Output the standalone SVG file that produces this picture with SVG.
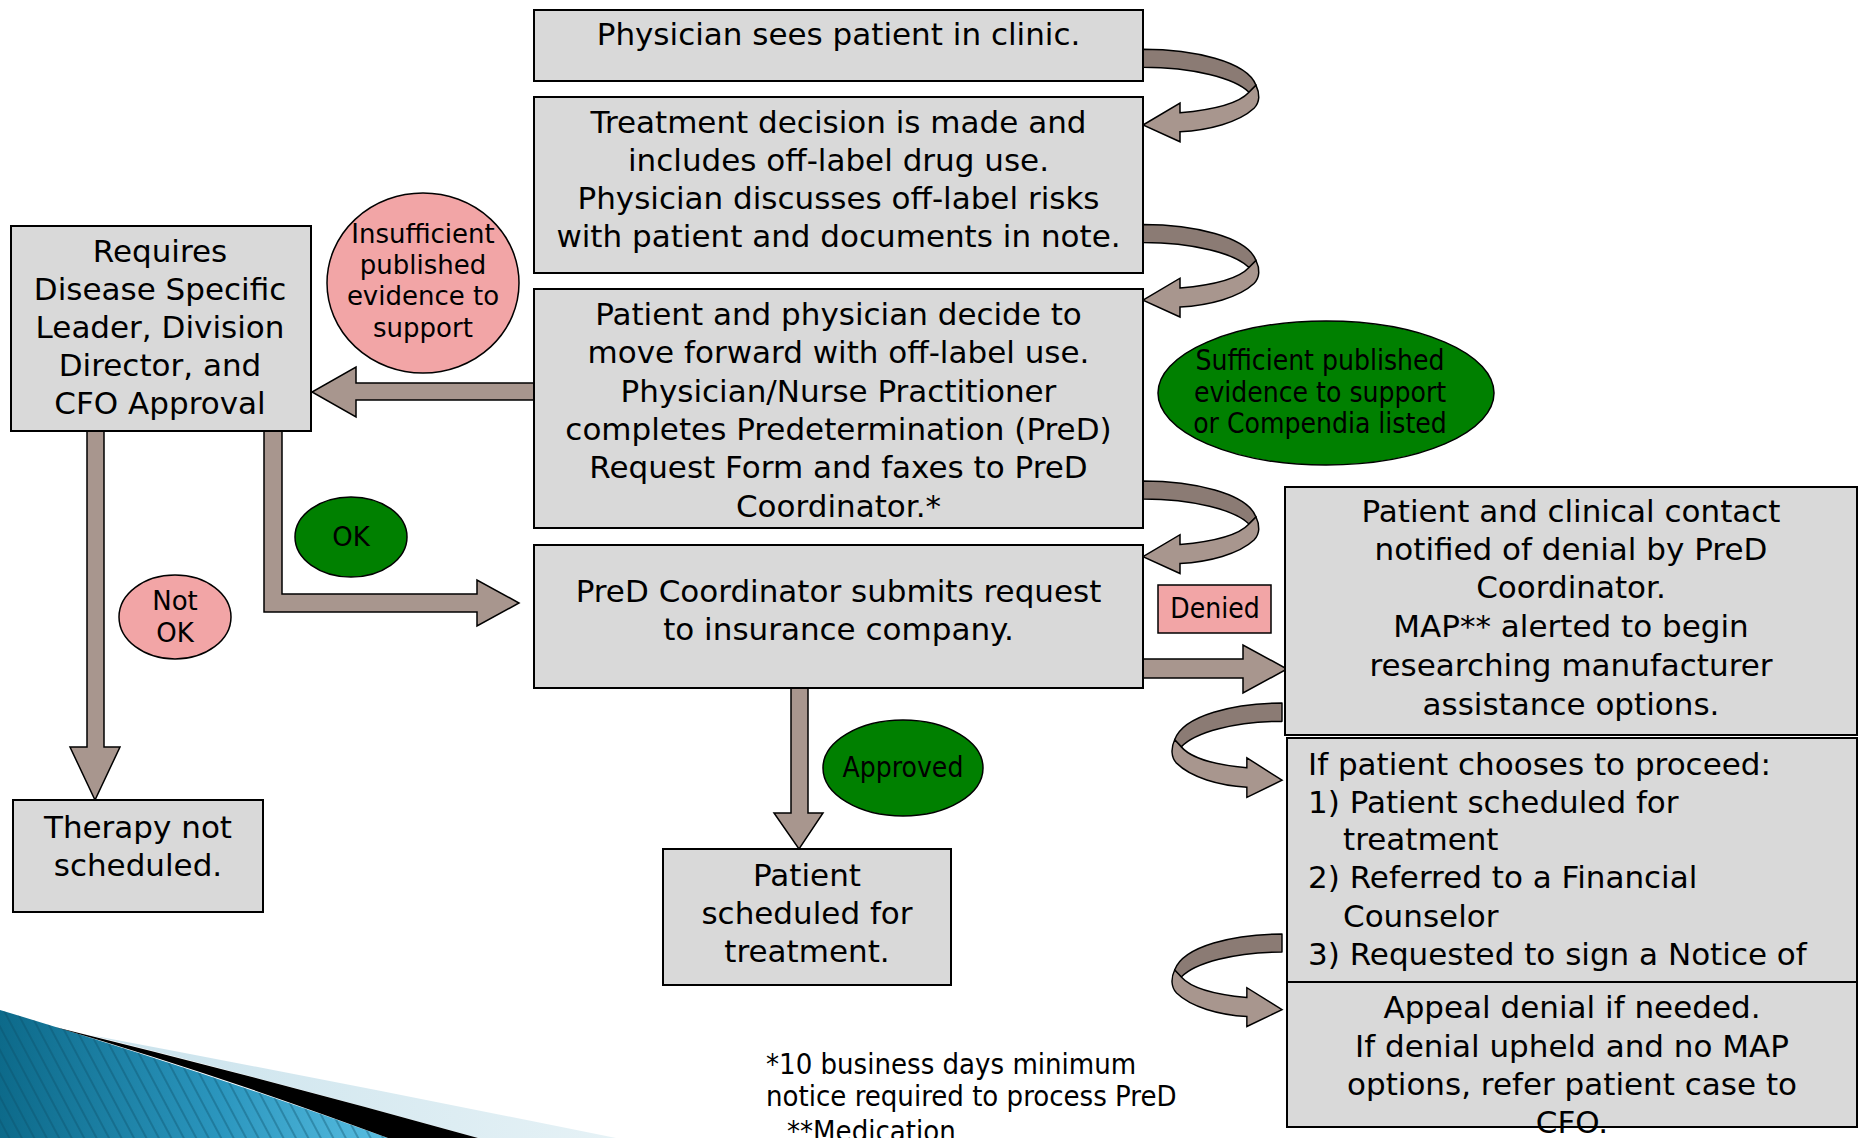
<svg xmlns="http://www.w3.org/2000/svg" xmlns:xlink="http://www.w3.org/1999/xlink" width="1862" height="1138" viewBox="0 0 1862 1138">
  <style>
    .box { fill:#D9D9D9; stroke:#000; stroke-width:2; }
    .t { font-family:"DejaVu Sans", Verdana, sans-serif; font-size:31px; fill:#000; text-anchor:middle; }
    .l { text-anchor:start; }
    .s { font-size:26px; }
    .c { font-family:"DejaVu Sans Condensed", "DejaVu Sans", sans-serif; font-stretch:condensed; font-size:28px; }
    .fn { font-size:29px; }
    .arrow { fill:#A8968E; stroke:#000; stroke-width:1.5; stroke-linejoin:miter; }
    .back { fill:#8B7B74; stroke:#000; stroke-width:1.5; stroke-linejoin:round; }
    .front { fill:#A8968E; stroke:#000; stroke-width:1.5; stroke-linejoin:miter; }
    .pink { fill:#F2A5A6; stroke:#000; stroke-width:1.5; }
    .green { fill:#008000; stroke:#000; stroke-width:1.5; }
  </style>
  <defs>
    <!-- curled ribbon arrow: leaves a box edge, loops outward and returns with a head -->
    <g id="curl">
      <path class="back" d="M0,0 C50,0 104,12 113,36 L106,43 C92,29 50,18 0,18 Z"/>
      <path class="front" d="M106,43 L113,36 C117,44 117,53 111,59 C96,73 66,81 37,82.5 L37,92.5 L0,75.7 L37,53.7 L37,63.5 C66,61 95,55 106,43 Z"/>
    </g>
    <linearGradient id="teal" x1="0" y1="0" x2="400" y2="0" gradientUnits="userSpaceOnUse">
      <stop offset="0" stop-color="#0D6A8A"/>
      <stop offset="0.55" stop-color="#2B96BE"/>
      <stop offset="1" stop-color="#5CC1E4"/>
    </linearGradient>
    <linearGradient id="pale" x1="90" y1="0" x2="620" y2="0" gradientUnits="userSpaceOnUse">
      <stop offset="0" stop-color="#C9E2EC"/>
      <stop offset="1" stop-color="#E6F2F6"/>
    </linearGradient>
    <pattern id="stripes" width="11" height="11" patternUnits="userSpaceOnUse" patternTransform="rotate(-28)">
      <line x1="2" y1="0" x2="2" y2="11" stroke="#0A4E66" stroke-opacity="0.45" stroke-width="1.6"/>
    </pattern>
  </defs>

  <rect width="1862" height="1138" fill="#FFFFFF"/>

  <!-- corner swoosh decoration -->
  <g id="swoosh">
    <path d="M0,1010 Q200,1070 388,1138 L0,1138 Z" fill="url(#teal)"/>
    <path d="M0,1010 Q200,1070 388,1138 L0,1138 Z" fill="url(#stripes)"/>
    <path d="M90,1035 Q350,1084 616,1138 L478,1138 Q270,1080 90,1035 Z" fill="url(#pale)"/>
    <path d="M55,1027 Q270,1080 478,1138 L388,1138 Q210,1072 55,1027 Z" fill="#000"/>
  </g>

  <!-- connectors -->
  <g id="connectors">
    <polygon class="arrow" points="534,383 356,383 356,367 312,392 356,417 356,400 534,400"/>
    <polygon class="arrow" points="87,431 104,431 104,747 120,747 95,800 70,747 87,747"/>
    <polygon class="arrow" points="264,431 282,431 282,594 477,594 477,580 519,603 477,626 477,612 264,612"/>
    <polygon class="arrow" points="791,688 808,688 808,813 823,813 799,849 774,813 791,813"/>
    <polygon class="arrow" points="1143,659 1243,659 1243,645 1287,669 1243,693 1243,678 1143,678"/>
    <use xlink:href="#curl" href="#curl" transform="translate(1143,49.3)"/>
    <use xlink:href="#curl" href="#curl" transform="translate(1143,224.5)"/>
    <use xlink:href="#curl" href="#curl" transform="translate(1143,481)"/>
    <use xlink:href="#curl" href="#curl" transform="translate(1282,703) scale(-0.95,1.02)"/>
    <use xlink:href="#curl" href="#curl" transform="translate(1282,934) scale(-0.95,1.0)"/>
  </g>

  <!-- process boxes -->
  <g id="clinic-visit">
    <rect class="box" x="534" y="10" width="609" height="71"/>
    <text class="t" x="838.5" y="45">Physician sees patient in clinic.</text>
  </g>
  <g id="treatment-decision">
    <rect class="box" x="534" y="97" width="609" height="176"/>
    <text class="t" x="838.5" y="133">Treatment decision is made and</text>
    <text class="t" x="838.5" y="171">includes off-label drug use.</text>
    <text class="t" x="838.5" y="209">Physician discusses off-label risks</text>
    <text class="t" x="838.5" y="247">with patient and documents in note.</text>
  </g>
  <g id="pred-request">
    <rect class="box" x="534" y="289" width="609" height="239"/>
    <text class="t" x="838.5" y="325">Patient and physician decide to</text>
    <text class="t" x="838.5" y="363">move forward with off-label use.</text>
    <text class="t" x="838.5" y="401.5">Physician/Nurse Practitioner</text>
    <text class="t" x="838.5" y="440">completes Predetermination (PreD)</text>
    <text class="t" x="838.5" y="478">Request Form and faxes to PreD</text>
    <text class="t" x="838.5" y="517">Coordinator.*</text>
  </g>
  <g id="pred-submit">
    <rect class="box" x="534" y="545" width="609" height="143"/>
    <text class="t" x="838.5" y="601.5">PreD Coordinator submits request</text>
    <text class="t" x="838.5" y="640">to insurance company.</text>
  </g>
  <g id="approval-required">
    <rect class="box" x="11" y="226" width="300" height="205"/>
    <text class="t" x="160" y="262">Requires</text>
    <text class="t" x="160" y="300">Disease Specific</text>
    <text class="t" x="160" y="338">Leader, Division</text>
    <text class="t" x="160" y="376">Director, and</text>
    <text class="t" x="160" y="414">CFO Approval</text>
  </g>
  <g id="therapy-not-scheduled">
    <rect class="box" x="13" y="800" width="250" height="112"/>
    <text class="t" x="138" y="838">Therapy not</text>
    <text class="t" x="138" y="876">scheduled.</text>
  </g>
  <g id="patient-scheduled">
    <rect class="box" x="663" y="849" width="288" height="136"/>
    <text class="t" x="807" y="886">Patient</text>
    <text class="t" x="807" y="924">scheduled for</text>
    <text class="t" x="807" y="962">treatment.</text>
  </g>
  <g id="denial-notice">
    <rect class="box" x="1285" y="487" width="572" height="248"/>
    <text class="t" x="1571" y="522">Patient and clinical contact</text>
    <text class="t" x="1571" y="560">notified of denial by PreD</text>
    <text class="t" x="1571" y="598">Coordinator.</text>
    <text class="t" x="1571" y="637">MAP** alerted to begin</text>
    <text class="t" x="1571" y="676">researching manufacturer</text>
    <text class="t" x="1571" y="715">assistance options.</text>
  </g>
  <g id="patient-options">
    <rect class="box" x="1287" y="738" width="570" height="244"/>
    <text class="t l" x="1308" y="775">If patient chooses to proceed:</text>
    <text class="t l" x="1308" y="813">1) Patient scheduled for</text>
    <text class="t l" x="1343" y="850">treatment</text>
    <text class="t l" x="1308" y="888">2) Referred to a Financial</text>
    <text class="t l" x="1343" y="927">Counselor</text>
    <text class="t l" x="1308" y="965">3) Requested to sign a Notice of</text>
  </g>
  <g id="appeal">
    <rect class="box" x="1287" y="982" width="570" height="145"/>
    <text class="t" x="1572" y="1018">Appeal denial if needed.</text>
    <text class="t" x="1572" y="1057">If denial upheld and no MAP</text>
    <text class="t" x="1572" y="1095">options, refer patient case to</text>
    <text class="t" x="1572" y="1133">CFO.</text>
  </g>

  <!-- decision labels -->
  <g id="insufficient-evidence">
    <ellipse class="pink" cx="423" cy="283" rx="96" ry="90"/>
    <text class="t s" x="423" y="243">Insufficient</text>
    <text class="t s" x="423" y="274">published</text>
    <text class="t s" x="423" y="305">evidence to</text>
    <text class="t s" x="423" y="337">support</text>
  </g>
  <g id="sufficient-evidence">
    <ellipse class="green" cx="1326" cy="393" rx="168" ry="72"/>
    <text class="t c" x="1320" y="370">Sufficient published</text>
    <text class="t c" x="1320" y="402">evidence to support</text>
    <text class="t c" x="1320" y="433">or Compendia listed</text>
  </g>
  <g id="ok">
    <ellipse class="green" cx="351" cy="537" rx="56" ry="40"/>
    <text class="t s" x="351" y="546">OK</text>
  </g>
  <g id="not-ok">
    <ellipse class="pink" cx="175" cy="617" rx="56" ry="42"/>
    <text class="t s" x="175" y="610">Not</text>
    <text class="t s" x="175" y="642">OK</text>
  </g>
  <g id="approved">
    <ellipse class="green" cx="903" cy="768" rx="80" ry="48"/>
    <text class="t c" x="903" y="777">Approved</text>
  </g>
  <g id="denied">
    <rect class="pink" x="1158" y="585" width="113" height="48"/>
    <text class="t c" x="1215" y="618">Denied</text>
  </g>

  <!-- footnotes (the last line runs past the lower edge) -->
  <g id="footnotes">
    <text class="t c fn l" x="766" y="1074">*10 business days minimum</text>
    <text class="t c fn l" x="766" y="1106">notice required to process PreD</text>
    <text class="t c fn l" x="787" y="1141">**Medication</text>
  </g>
</svg>
